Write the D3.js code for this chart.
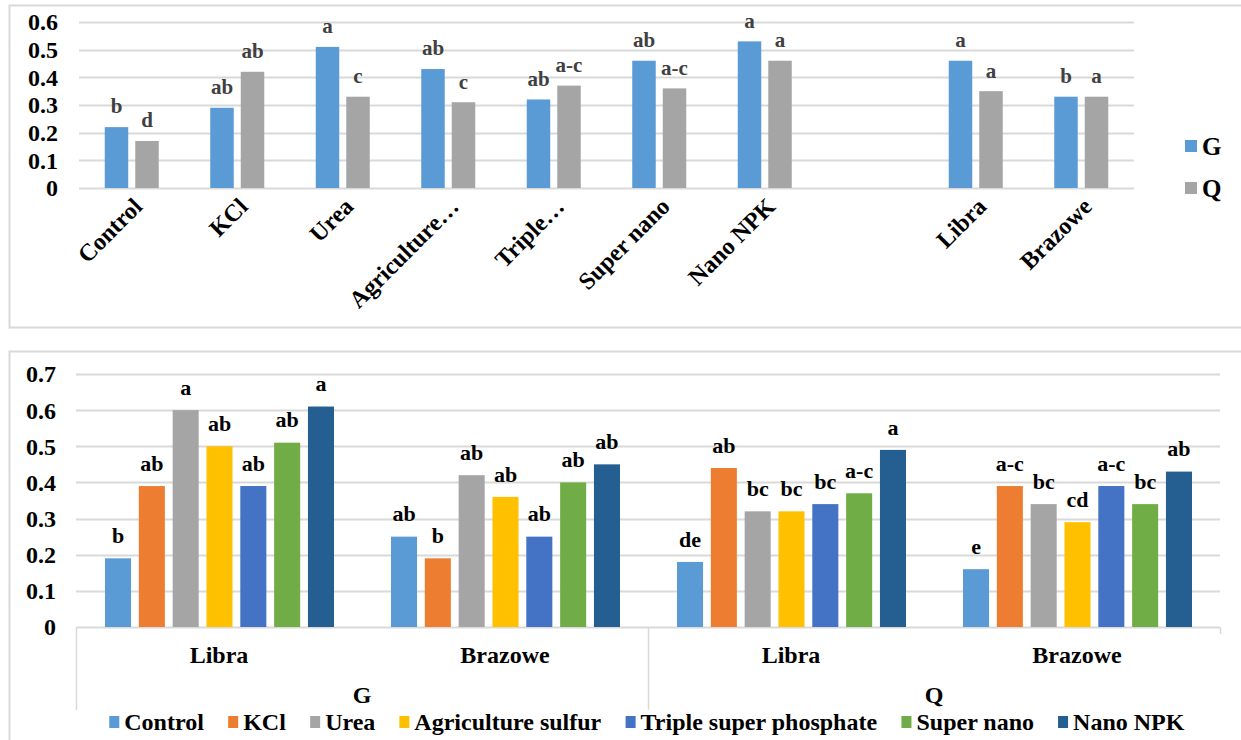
<!DOCTYPE html>
<html>
<head>
<meta charset="utf-8">
<script src="https://cdn.jsdelivr.net/npm/d3@7"></script>
</head>
<body style="margin:0; background:#fff">
<script>
const width = 1241, height = 740;
const FONT = "Liberation Serif";

// ---- top chart data ----
const topCats = ["Control", "KCl", "Urea", "Agriculture…", "Triple…", "Super nano", "Nano NPK", "", "Libra", "Brazowe"];
const topSeries = ["G", "Q"];
const topG = [0.22, 0.29, 0.51, 0.43, 0.32, 0.46, 0.53, null, 0.46, 0.33];
const topQ = [0.17, 0.42, 0.33, 0.31, 0.37, 0.36, 0.46, null, 0.35, 0.33];
const topGLetters = ["b", "ab", "a", "ab", "ab", "ab", "a", "", "a", "b"];
const topQLetters = ["d", "ab", "c", "c", "a-c", "a-c", "a", "", "a", "a"];
const topTicks = [0, 0.1, 0.2, 0.3, 0.4, 0.5, 0.6];

// ---- bottom chart data ----
const treatments = ["Control", "KCl", "Urea", "Agriculture sulfur", "Triple super phosphate", "Super nano", "Nano NPK"];
const groups = ["G", "Q"];
const varieties = ["Libra", "Brazowe"];
const gLibra = [0.19, 0.39, 0.60, 0.50, 0.39, 0.51, 0.61];
const gBrazowe = [0.25, 0.19, 0.42, 0.36, 0.25, 0.40, 0.45];
const qLibra = [0.18, 0.44, 0.32, 0.32, 0.34, 0.37, 0.49];
const qBrazowe = [0.16, 0.39, 0.34, 0.29, 0.39, 0.34, 0.43];
const gLibraLetters = ["b", "ab", "a", "ab", "ab", "ab", "a"];
const gBrazoweLetters = ["ab", "b", "ab", "ab", "ab", "ab", "ab"];
const qLibraLetters = ["de", "ab", "bc", "bc", "bc", "a-c", "a"];
const qBrazoweLetters = ["e", "a-c", "bc", "cd", "a-c", "bc", "ab"];
const bottomTicks = [0, 0.1, 0.2, 0.3, 0.4, 0.5, 0.6, 0.7];

const topColors = { G: "#5B9BD5", Q: "#A5A5A5" };
const treatColors = ["#5B9BD5", "#ED7D31", "#A5A5A5", "#FFC000", "#4472C4", "#70AD47", "#255E91"];
const gridColor = "#D9D9D9";

const svg = d3.select("body").append("svg")
    .attr("width", width)
    .attr("height", height)
    .attr("font-family", FONT)
    .attr("font-weight", "bold");

// panel borders
svg.append("rect")
    .attr("x", 9.5).attr("y", 5.5)
    .attr("width", 1250).attr("height", 322)
    .attr("fill", "none").attr("stroke", gridColor).attr("stroke-width", 2);
svg.append("rect")
    .attr("x", 9.5).attr("y", 351.5)
    .attr("width", 1250).attr("height", 420)
    .attr("fill", "none").attr("stroke", gridColor).attr("stroke-width", 2);

// ================= TOP CHART =================
const xTop = d3.scaleBand().domain(d3.range(topCats.length)).range([79, 1134]);
const bwTop = xTop.bandwidth();
const xTopSub = d3.scaleBand().domain(topSeries)
    .range([bwTop / 2 - 27, bwTop / 2 + 27]).paddingInner(0.23);
const yTop = d3.scaleLinear().domain([0, 0.6]).range([188, 22]);

const topG_ = svg.append("g");

// gridlines
topG_.selectAll(".grid")
    .data(topTicks)
    .enter().append("line")
    .attr("x1", 79).attr("x2", 1134)
    .attr("y1", d => Math.round(yTop(d)) + 0.5)
    .attr("y2", d => Math.round(yTop(d)) + 0.5)
    .attr("stroke", gridColor).attr("stroke-width", 2);

// y labels
topG_.selectAll(".ylab")
    .data(topTicks)
    .enter().append("text")
    .attr("x", 58)
    .attr("y", d => yTop(d))
    .attr("dy", "0.35em")
    .attr("text-anchor", "end")
    .attr("font-size", 24)
    .text(d => d);

const topRows = [];
topCats.forEach((c, i) => {
    if (topG[i] != null) topRows.push({ i, s: "G", v: topG[i], l: topGLetters[i] });
    if (topQ[i] != null) topRows.push({ i, s: "Q", v: topQ[i], l: topQLetters[i] });
});

topG_.selectAll(".bar")
    .data(topRows)
    .enter().append("rect")
    .attr("x", d => xTop(d.i) + xTopSub(d.s))
    .attr("y", d => yTop(d.v))
    .attr("width", xTopSub.bandwidth())
    .attr("height", d => yTop(0) - yTop(d.v))
    .attr("fill", d => topColors[d.s]);

topG_.selectAll(".lett")
    .data(topRows)
    .enter().append("text")
    .attr("x", d => xTop(d.i) + xTopSub(d.s) + xTopSub.bandwidth() / 2)
    .attr("y", d => yTop(d.v) - 21)
    .attr("dy", "0.35em")
    .attr("text-anchor", "middle")
    .attr("font-size", 21)
    .attr("fill", "#404040")
    .text(d => d.l);

// rotated category labels
topG_.selectAll(".xlab")
    .data(topCats.map((c, i) => ({ c, i })).filter(d => d.c))
    .enter().append("text")
    .attr("transform", d => `translate(${xTop(d.i) + bwTop / 2 + 6}, 202) rotate(-45)`)
    .attr("dy", "0.35em")
    .attr("text-anchor", "end")
    .attr("font-size", 24)
    .text(d => d.c);

// top legend
const topLegend = svg.append("g").selectAll("g")
    .data(topSeries)
    .enter().append("g")
    .attr("transform", (d, i) => `translate(1185, ${146 + i * 42})`);
topLegend.append("rect")
    .attr("x", 0).attr("y", -6).attr("width", 12).attr("height", 12)
    .attr("fill", d => topColors[d]);
topLegend.append("text")
    .attr("x", 17).attr("dy", "0.35em")
    .attr("font-size", 25)
    .text(d => d);

// ================= BOTTOM CHART =================
const bottomGroups = [
    { grp: "G", variety: "Libra", vals: gLibra, lett: gLibraLetters },
    { grp: "G", variety: "Brazowe", vals: gBrazowe, lett: gBrazoweLetters },
    { grp: "Q", variety: "Libra", vals: qLibra, lett: qLibraLetters },
    { grp: "Q", variety: "Brazowe", vals: qBrazowe, lett: qBrazoweLetters }
];
bottomGroups.forEach((d, i) => d.key = i);

const xB = d3.scaleBand().domain(d3.range(bottomGroups.length)).range([76, 1220]);
const bwB = xB.bandwidth();
const xBSub = d3.scaleBand().domain(treatments).range([29, bwB - 28]).paddingInner(0.23);
const yB = d3.scaleLinear().domain([0, 0.7]).range([627, 374]);

const bot = svg.append("g");

bot.selectAll(".grid")
    .data(bottomTicks)
    .enter().append("line")
    .attr("x1", 76).attr("x2", 1220)
    .attr("y1", d => Math.round(yB(d)) + 0.5)
    .attr("y2", d => Math.round(yB(d)) + 0.5)
    .attr("stroke", gridColor).attr("stroke-width", 2);

bot.selectAll(".ylab")
    .data(bottomTicks)
    .enter().append("text")
    .attr("x", 56)
    .attr("y", d => yB(d))
    .attr("dy", "0.35em")
    .attr("text-anchor", "end")
    .attr("font-size", 24)
    .text(d => d);

const botRows = [];
bottomGroups.forEach(g => {
    treatments.forEach((t, j) => botRows.push({ key: g.key, t, j, v: g.vals[j], l: g.lett[j] }));
});

bot.selectAll(".bar")
    .data(botRows)
    .enter().append("rect")
    .attr("x", d => xB(d.key) + xBSub(d.t))
    .attr("y", d => yB(d.v))
    .attr("width", xBSub.bandwidth())
    .attr("height", d => yB(0) - yB(d.v))
    .attr("fill", d => treatColors[d.j]);

bot.selectAll(".lett")
    .data(botRows)
    .enter().append("text")
    .attr("x", d => xB(d.key) + xBSub(d.t) + xBSub.bandwidth() / 2)
    .attr("y", d => yB(d.v) - 23)
    .attr("dy", "0.35em")
    .attr("text-anchor", "middle")
    .attr("font-size", 22)
    .attr("fill", "#000")
    .text(d => d.l);

// multi-level axis: variety labels
bot.selectAll(".var")
    .data(bottomGroups)
    .enter().append("text")
    .attr("x", d => xB(d.key) + bwB / 2)
    .attr("y", 655)
    .attr("dy", "0.35em")
    .attr("text-anchor", "middle")
    .attr("font-size", 24)
    .text(d => d.variety);

// group labels + separators
const xGrp = d3.scaleBand().domain(groups).range([76, 1220]);
bot.selectAll(".grp")
    .data(groups)
    .enter().append("text")
    .attr("x", d => xGrp(d) + xGrp.bandwidth() / 2)
    .attr("y", 695)
    .attr("dy", "0.35em")
    .attr("text-anchor", "middle")
    .attr("font-size", 24)
    .text(d => d);

bot.selectAll(".sep")
    .data([76, xGrp("Q"), 1220])
    .enter().append("line")
    .attr("x1", d => Math.round(d) + 0.5).attr("x2", d => Math.round(d) + 0.5)
    .attr("y1", 627).attr("y2", d => d === 1220 ? 634 : 710)
    .attr("stroke", gridColor).attr("stroke-width", 1.5);

// bottom legend
const leg = svg.append("g");
const items = leg.selectAll("g")
    .data(treatments)
    .enter().append("g");
items.append("rect")
    .attr("y", -6).attr("width", 10).attr("height", 12)
    .attr("fill", (d, i) => treatColors[i]);
items.append("text")
    .attr("x", 15).attr("dy", "0.35em")
    .attr("font-size", 24)
    .text(d => d);
let cx = 0;
const pos = [];
items.each(function () {
    pos.push(cx);
    cx += this.getBBox().width + 24;
});
const legW = cx - 24;
items.attr("transform", (d, i) => `translate(${pos[i]}, 0)`);
leg.attr("transform", `translate(${647 - legW / 2}, 722)`);
</script>
</body>
</html>
